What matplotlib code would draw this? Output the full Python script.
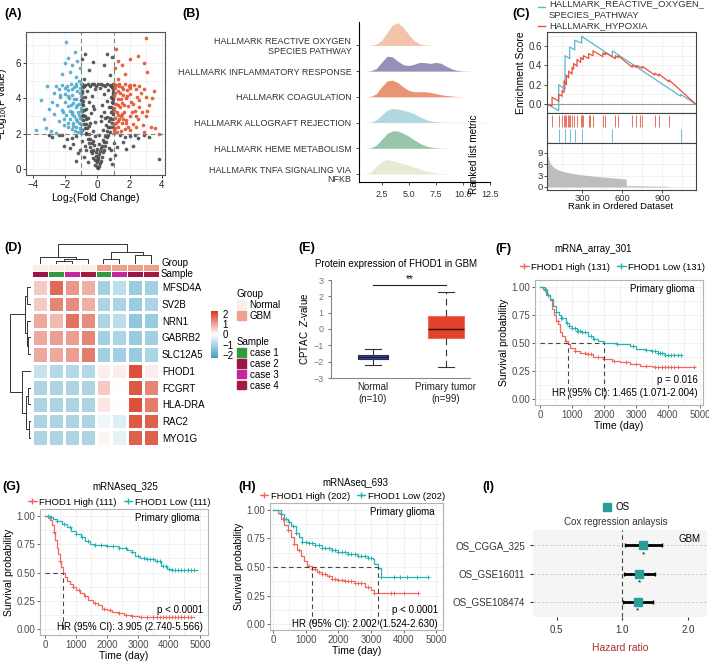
import matplotlib
matplotlib.use('agg')
import matplotlib.pyplot as plt
import numpy as np
from matplotlib.colors import LinearSegmentedColormap, ListedColormap
from matplotlib.lines import Line2D
from matplotlib.patches import Patch

plt.rcParams['font.family'] = ['Liberation Sans', 'DejaVu Sans']
plt.rcParams['font.size'] = 6.5
plt.rcParams['mathtext.fontset'] = 'custom'
plt.rcParams['mathtext.rm'] = 'Liberation Sans'
plt.rcParams['mathtext.it'] = 'Liberation Sans:italic'

# ---------------- data ----------------
# (A) volcano: (log2FC, -log10 p)
volc_gray = [(0.02,0.03),(-0.05,0.1),(0.08,0.18),(-0.12,0.25),(0.15,0.32),(-0.03,0.38),(0.2,0.45),(-0.18,0.5),
             (0.06,0.55),(-0.25,0.62),(0.28,0.7),(-0.1,0.75),(0.12,0.82),(-0.32,0.88),(0.35,0.95),(-0.6,0.4),
             (0.75,0.55),(-0.85,0.7),(0.9,0.3),(-1.3,0.45),(3.8,0.55),(-0.38,1.02),(0.4,1.08),(-0.05,1.12),
             (0.22,1.18),(-0.45,1.25),(0.48,1.3),(-0.2,1.35),(0.1,1.42),(-0.52,1.48),(0.55,1.55),(-0.3,1.6),
             (0.32,1.66),(-0.6,1.72),(0.62,1.8),(-0.12,1.85),(0.68,1.92),(-0.7,1.97),(-1.1,1.1),(1.2,1.25),
             (-1.5,1.4),(1.6,1.5),(-1.9,1.7),(2.0,1.85),(-2.4,1.9),(2.5,1.75),(-1.3,1.85),(1.4,1.95),
             (-0.95,1.6),(1.0,1.45),(-1.7,1.2),(1.8,1.15),(-0.8,1.3),(0.85,1.05),(2.9,1.95),(-2.8,1.8),
             (-0.72,2.05),(0.75,2.1),(-0.3,2.15),(0.35,2.2),(-0.78,2.3),(0.8,2.35),(-0.5,2.42),(0.55,2.48),
             (-0.85,2.55),(0.88,2.6),(-0.15,2.65),(0.2,2.7),(-0.9,2.78),(0.92,2.82),(-0.6,2.88),(0.62,2.95),
             (-0.98,2.98),(0.97,2.4),(-0.97,2.2),(0.45,2.9),(-0.92,3.05),(0.94,3.1),(-0.4,3.15),(0.42,3.2),
             (-0.97,3.3),(0.98,3.35),(-0.7,3.42),(0.72,3.48),(-0.25,3.55),(0.28,3.6),(-0.95,3.65),(0.96,3.72),
             (-0.55,3.8),(0.58,3.85),(-0.99,3.92),(0.99,3.98),(-0.8,4.05),(0.82,4.1),(-0.35,4.15),(0.38,4.22),
             (-0.96,4.28),(0.95,4.35),(-0.65,4.42),(0.68,4.48),(-0.15,4.55),(0.15,4.6),(-0.9,4.62),(0.9,4.65),
             (-0.45,4.7),(0.5,4.72),(-0.75,4.75),(0.78,4.77),(-0.2,4.78),(0.25,4.8),(-0.98,4.8),(0.98,4.78),
             (-0.6,4.8),(0.62,4.79),(-0.85,5.1),(0.75,5.3),(-0.55,5.6),(0.4,5.9),(-0.95,6.2),(0.9,6.35),
             (-0.3,6.05),(0.6,6.5),(-0.75,6.5),
             (0.0,0.5),(0.05,0.7),(-0.08,0.95),(0.18,1.0),(-0.28,1.1),(0.3,1.3),(-0.35,1.45),(0.42,1.5),
             (-0.45,1.7),(0.5,1.85),(-0.55,2.0),(0.6,2.15),(-0.62,2.3),(0.66,2.4),(-0.68,2.55),(0.72,2.7),
             (-0.74,2.8),(0.78,2.9),(-0.8,3.0),(0.83,3.2),(-0.85,3.35),(0.86,3.5),(-0.88,3.6),(0.9,3.8),
             (-0.9,3.85),(0.92,4.0),(-0.93,4.1),(0.94,4.25),(-0.94,4.4),(0.95,4.55),(-0.85,4.7),(0.85,4.72),
             (-0.35,4.78),(0.35,4.76),(-0.08,4.72),(0.05,4.8),(-1.2,0.9),(1.1,0.8),(-2.1,1.3),(2.2,1.3),
             (-1.6,1.75),(1.7,1.8),(-2.2,1.95),(2.3,1.95),(-0.7,1.1),(0.7,1.2),(-3.0,1.9),(3.2,1.8),
             (0.1,1.9),(-0.45,2.6),(0.25,3.0),(-0.2,3.4)]
volc_blue = [(-1.05,2.05),(-1.2,2.1),(-1.4,2.15),(-1.1,2.3),(-1.6,2.25),(-1.3,2.4),(-1.85,2.35),(-1.05,2.55),
             (-1.5,2.6),(-2.1,2.5),(-1.25,2.7),(-1.7,2.8),(-2.4,2.7),(-1.1,2.9),(-1.45,3.0),(-1.95,3.05),
             (-2.7,3.1),(-1.2,3.2),(-1.6,3.25),(-2.2,3.35),(-1.05,3.45),(-1.35,3.5),(-1.8,3.55),(-2.5,3.6),
             (-3.0,3.4),(-1.15,3.7),(-1.5,3.75),(-2.0,3.8),(-1.3,3.95),(-1.75,4.0),(-2.3,4.05),(-1.05,4.15),
             (-1.55,4.2),(-2.0,4.25),(-2.7,4.3),(-1.25,4.4),(-1.8,4.45),(-2.4,4.5),(-1.1,4.6),(-1.45,4.65),
             (-1.9,4.7),(-2.2,4.75),(-1.3,4.78),(-1.65,4.8),(-2.6,4.72),(-3.1,4.7),(-3.5,3.9),(-3.8,2.2),
             (-3.2,2.3),(-2.9,2.15),(-2.55,2.05),(-1.35,5.2),(-1.7,5.5),(-1.1,5.7),(-1.55,5.9),(-2.0,6.0),
             (-1.25,6.1),(-1.8,6.3),(-2.2,5.4),(-1.4,6.6),(-1.95,7.2),(-1.15,5.0),(-2.35,4.2),(-1.7,3.3),
             (-2.05,2.85),(-1.15,3.05),(-1.5,2.45),(-2.8,3.8),(-3.3,2.8),
             (-1.02,2.2),(-1.15,2.6),(-1.35,2.85),(-1.55,3.1),(-1.05,3.3),(-1.25,3.6),(-1.65,3.6),
             (-1.45,3.95),(-1.1,4.3),(-1.6,4.5),(-2.0,4.6),(-1.35,4.7),(-1.02,4.78),(-1.85,4.15),(-2.15,3.2),
             (-1.8,2.6)]
volc_red = [(1.05,2.05),(1.2,2.1),(1.45,2.15),(1.1,2.3),(1.7,2.25),(2.0,2.2),(1.3,2.4),(1.9,2.4),(2.4,2.35),
            (1.05,2.55),(1.55,2.6),(2.2,2.55),(2.8,2.5),(1.25,2.7),(1.8,2.75),(2.5,2.8),(1.1,2.9),(1.45,3.0),
            (2.0,3.0),(3.0,3.0),(1.2,3.2),(1.65,3.25),(2.3,3.3),(1.05,3.45),(1.4,3.5),(1.9,3.55),(2.6,3.5),
            (3.2,3.6),(1.15,3.7),(1.55,3.75),(2.1,3.8),(1.3,3.95),(1.8,4.0),(2.45,4.05),(3.0,4.1),(1.05,4.15),
            (1.6,4.2),(2.05,4.25),(2.7,4.3),(1.25,4.4),(1.85,4.45),(2.4,4.5),(1.1,4.6),(1.5,4.65),(1.95,4.7),
            (2.25,4.75),(1.35,4.78),(1.7,4.8),(2.6,4.72),(3.4,4.0),(3.5,4.4),(3.3,2.4),(3.6,2.3),(2.9,2.1),
            (1.3,5.1),(1.7,5.4),(1.1,5.7),(1.5,5.9),(2.0,6.2),(1.3,6.1),(2.5,6.4),(2.9,6.0),(3.0,7.4),
            (1.15,6.8),(3.1,5.5),(1.25,3.05),(1.6,2.85),(2.2,3.65),(1.4,4.3),(2.0,4.75),(1.15,4.75),
            (2.75,3.2),(3.8,2.0),
            (1.02,2.2),(1.15,2.6),(1.35,2.85),(1.55,3.1),(1.05,3.3),(1.25,3.6),(1.65,3.6),(1.45,3.95),
            (1.1,4.3),(1.6,4.5),(2.0,4.6),(1.35,4.7),(1.02,4.78),(1.85,4.15),(2.15,3.2),(1.8,2.6),(2.4,3.0),
            (2.6,3.9),(2.9,4.5),(3.1,3.3)]

# (B) ridge densities
ridge_names = ['HALLMARK REACTIVE OXYGEN\nSPECIES PATHWAY', 'HALLMARK INFLAMMATORY RESPONSE',
               'HALLMARK COAGULATION', 'HALLMARK ALLOGRAFT REJECTION', 'HALLMARK HEME METABOLISM',
               'HALLMARK TNFA SIGNALING VIA\nNFKB']
ridge_colors = ['#F3BEA3', '#8C87B2', '#E78B69', '#ABD5DE', '#8FC1A3', '#E3EBCF']
ridge_x = [0.5, 1.0, 1.5, 2.0, 2.5, 3.0, 3.5, 4.0, 4.5, 5.0, 5.5, 6.0, 6.5, 7.0, 7.5, 8.0, 8.5, 9.0, 9.5,
           10.0, 10.5, 11.0, 11.5, 12.0, 12.5]
ridge_ros = [0, 0, 0.01, 0.05, 0.2, 0.5, 0.8, 0.88, 0.7, 0.42, 0.18, 0.06, 0.02, 0.01, 0, 0, 0, 0, 0, 0, 0, 0, 0, 0, 0]
ridge_inf = [0, 0, 0.02, 0.1, 0.35, 0.58, 0.55, 0.38, 0.25, 0.22, 0.27, 0.34, 0.33, 0.3, 0.34, 0.3, 0.18, 0.08,
             0.03, 0.01, 0.005, 0, 0, 0, 0]
ridge_coa = [0, 0, 0.02, 0.12, 0.4, 0.62, 0.65, 0.55, 0.38, 0.25, 0.2, 0.2, 0.2, 0.17, 0.13, 0.08, 0.05, 0.03,
             0.01, 0.005, 0, 0, 0, 0, 0]
ridge_all = [0, 0, 0.02, 0.1, 0.3, 0.48, 0.55, 0.53, 0.48, 0.42, 0.35, 0.23, 0.13, 0.06, 0.03, 0.02, 0.01,
             0.01, 0.01, 0.01, 0.01, 0.01, 0.01, 0.005, 0]
ridge_hem = [0, 0, 0.02, 0.12, 0.35, 0.58, 0.68, 0.67, 0.58, 0.47, 0.33, 0.2, 0.1, 0.05, 0.02, 0.01, 0.005,
             0, 0, 0, 0, 0, 0, 0, 0]
ridge_tnf = [0, 0.01, 0.08, 0.3, 0.5, 0.56, 0.52, 0.46, 0.4, 0.34, 0.27, 0.2, 0.13, 0.08, 0.04, 0.02, 0.01,
             0, 0, 0, 0, 0, 0, 0, 0]

# (C) GSEA
blue_es_rank = [37, 125, 125, 172, 172, 207, 207, 245, 245, 297, 297, 527, 527, 1040, 1040, 1152]
blue_es_val = [0, -0.07, 0.2, 0.15, 0.5, 0.47, 0.59, 0.56, 0.66, 0.63, 0.7, 0.49, 0.55, 0.08, 0.1, 0]
red_es_rank = [37, 75, 75, 125, 125, 150, 150, 165, 165, 182, 182, 200, 200, 225, 225, 237, 237, 262, 262,
               290, 290, 310, 310, 350, 350, 382, 382, 457, 457, 475, 475, 550, 550, 570, 570, 677, 677,
               707, 707, 752, 752, 845, 845, 877, 877, 952, 952, 1152]
red_es_val = [0, -0.02, 0.07, 0.03, 0.1, 0.08, 0.14, 0.12, 0.24, 0.2, 0.3, 0.27, 0.34, 0.31, 0.38, 0.36, 0.42,
              0.39, 0.46, 0.43, 0.48, 0.46, 0.5, 0.47, 0.52, 0.5, 0.55, 0.49, 0.53, 0.51, 0.53, 0.47, 0.5,
              0.48, 0.5, 0.38, 0.4, 0.38, 0.4, 0.37, 0.39, 0.3, 0.32, 0.29, 0.31, 0.23, 0.25, 0]
blue_hits = [125, 172, 175, 207, 245, 297, 527, 1040]
red_hits = [75, 125, 150, 165, 172, 182, 192, 200, 210, 225, 237, 262, 290, 300, 310, 350, 362, 382, 457, 475,
            550, 570, 677, 707, 732, 752, 845, 877, 952]
metric_rank = [37, 42, 50, 60, 75, 100, 130, 170, 220, 300, 400, 500, 630, 632, 800, 950, 952, 1152]
metric_val = [10.5, 8.5, 7.2, 6.3, 5.6, 4.9, 4.4, 4.0, 3.6, 3.2, 2.8, 2.5, 2.1, 0.35, 0.25, 0.15, 0.0, 0.0]

# (D) heatmap
genes = ['MFSD4A', 'SV2B', 'NRN1', 'GABRB2', 'SLC12A5', 'FHOD1', 'FCGRT', 'HLA-DRA', 'RAC2', 'MYO1G']
heat = [[0.6, 1.7, 1.2, 0.9, -1.1, -0.8, -1.2, -1.1],
        [0.6, 1.4, 1.3, 0.9, -1.0, -1.0, -1.2, -1.0],
        [1.0, 0.8, 1.6, 1.3, -1.0, -0.8, -1.3, -1.2],
        [1.0, 1.1, 1.1, 1.4, -1.1, -1.0, -1.2, -1.1],
        [1.0, 1.0, 1.1, 1.5, -1.1, -1.1, -1.2, -1.0],
        [-0.7, -0.9, -0.9, -0.9, 0.2, 0.2, 2.0, 0.2],
        [-1.0, -1.0, -1.0, -1.0, 0.6, 0.0, 1.9, 1.4],
        [-1.0, -1.0, -1.0, -1.0, 0.3, 0.0, 2.0, 1.5],
        [-1.0, -1.0, -1.0, -1.0, -0.2, -0.4, 1.9, 1.8],
        [-1.0, -1.0, -1.0, -1.0, 0.1, -0.3, 1.8, 1.8]]
group_names = ['Normal', 'GBM']
group_cols = ['#FBEEE8', '#EFA18D']
group_codes = [0, 0, 0, 0, 1, 1, 1, 1]
sample_names = ['case 1', 'case 2', 'case 3', 'case 4']
sample_cols = ['#2E9B3F', '#9A1549', '#C4279C', '#A31A3C']
sample_codes = [1, 0, 2, 3, 0, 2, 1, 3]
col_merges = [(1, 2, 1.0), (8, 3, 1.4), (0, 9, 2.0), (6, 7, 2.6), (4, 5, 1.6), (12, 11, 3.4), (10, 13, 6.0)]
row_merges = [(0, 1, 0.4), (3, 4, 0.3), (2, 11, 0.45), (10, 12, 0.6), (6, 7, 0.3), (8, 9, 0.2),
              (14, 15, 0.5), (5, 16, 0.9), (13, 17, 2.2)]

# (E) CPTAC box stats
box_labels = ['Normal\n(n=10)', 'Primary tumor\n(n=99)']
box_med = [-1.72, 0.0]
box_q1 = [-1.85, -0.55]
box_q3 = [-1.6, 0.8]
box_lo = [-2.2, -2.3]
box_hi = [-1.25, 2.25]

# (F) mRNA_array_301
f_hi_t = [0, 80, 200, 300, 370, 450, 500, 560, 625, 700, 780, 860, 940, 1100, 1250, 1450, 1670, 1980, 2250,
          2500, 2810, 3125, 3540, 4800]
f_hi_s = [1, 0.98, 0.93, 0.88, 0.8, 0.75, 0.7, 0.67, 0.6, 0.56, 0.52, 0.49, 0.46, 0.43, 0.41, 0.4, 0.38,
          0.36, 0.34, 0.33, 0.31, 0.295, 0.285, 0.285]
f_lo_t = [0, 150, 220, 300, 400, 500, 600, 650, 800, 900, 1000, 1150, 1300, 1500, 1650, 1800, 2000, 2400,
          2800, 3000, 3300, 3500, 3700, 3900, 4400]
f_lo_s = [1, 0.97, 0.93, 0.89, 0.83, 0.78, 0.75, 0.72, 0.68, 0.65, 0.63, 0.61, 0.6, 0.56, 0.54, 0.52, 0.5,
          0.49, 0.47, 0.45, 0.44, 0.43, 0.41, 0.39, 0.39]
f_hi_c = [150, 250, 550, 800, 1100, 1400, 1500, 1600, 1800, 2000, 2300, 2700, 3000, 3300, 3600, 3700, 3800,
          3900, 4000, 4100, 4200, 4300, 4800]
f_lo_c = [150, 200, 250, 500, 650, 700, 850, 900, 1000, 1100, 1150, 1200, 1250, 1300, 1400, 1600, 1700, 2400,
          2900, 3300, 3500, 3600, 3700, 3750, 3800, 3900, 4000, 4100, 4200, 4300, 4400]

# (G) mRNAseq_325
g_hi_t = [0, 100, 160, 220, 280, 330, 380, 420, 470, 520, 580, 650, 720, 800, 900, 1000, 1130, 1250, 1400,
          1550, 1700, 1850, 2000, 2150, 2350, 2550, 2800, 3050, 4800]
g_hi_s = [1, 0.98, 0.96, 0.92, 0.86, 0.79, 0.72, 0.66, 0.6, 0.55, 0.5, 0.46, 0.43, 0.4, 0.37, 0.35, 0.32,
          0.29, 0.26, 0.23, 0.21, 0.18, 0.17, 0.15, 0.14, 0.13, 0.12, 0.11, 0.11]
g_lo_t = [0, 150, 270, 400, 550, 700, 850, 1000, 1150, 1300, 1450, 1600, 2000, 2400, 2650, 2800, 2920, 3080,
          3300, 3550, 3750, 3950, 4100, 4900]
g_lo_s = [1, 0.99, 0.97, 0.95, 0.93, 0.9, 0.87, 0.84, 0.81, 0.78, 0.75, 0.74, 0.73, 0.72, 0.7, 0.68, 0.65,
          0.63, 0.62, 0.6, 0.56, 0.53, 0.52, 0.52]
g_hi_c = [300, 500, 900, 1100, 1300, 1600, 1900, 2100, 2400, 2600, 2800, 3100, 3300, 3500, 3600, 3700, 3800,
          3900, 4000, 4100, 4200, 4300, 4400, 4500, 4600, 4700]
g_lo_c = [100, 200, 400, 600, 800, 1000, 1200, 1400, 1600, 1800, 2000, 2200, 2400, 2600, 2800, 3000, 3200,
          3300, 3400, 3500, 3600, 3700, 3800, 3900, 4000, 4100, 4200, 4300, 4400, 4500, 4600, 4700, 4800]

# (H) mRNAseq_693
h_hi_t = [0, 150, 250, 350, 450, 550, 650, 750, 850, 950, 1050, 1200, 1350, 1500, 1650, 1800, 2000, 2200,
          2500, 2800, 3000, 3100, 4450]
h_hi_s = [1, 0.97, 0.92, 0.87, 0.82, 0.76, 0.7, 0.65, 0.6, 0.55, 0.51, 0.48, 0.46, 0.44, 0.42, 0.4, 0.39,
          0.38, 0.36, 0.33, 0.3, 0.27, 0.27]
h_lo_t = [0, 250, 350, 450, 550, 700, 800, 900, 1100, 1300, 1500, 1800, 2000, 2300, 2600, 2900, 3050, 3100,
          3200, 3300, 4750]
h_lo_s = [1, 0.96, 0.92, 0.89, 0.86, 0.8, 0.76, 0.72, 0.71, 0.69, 0.67, 0.65, 0.63, 0.61, 0.6, 0.58, 0.57,
          0.53, 0.49, 0.41, 0.41]
h_hi_c = [300, 450, 650, 800, 1100, 1200, 1300, 1400, 1500, 1600, 1700, 1800, 1900, 2000, 2100, 2200, 2300,
          2400, 2500, 2600, 2700, 2900, 3100, 3600, 3700, 4000, 4450]
h_lo_c = [250, 400, 500, 600, 700, 900, 1000, 1100, 1200, 1300, 1400, 1500, 1600, 1700, 1800, 1900, 2000,
          2100, 2200, 2300, 2400, 2500, 2600, 2700, 2800, 2900, 3000, 3300, 3700, 3900, 4100, 4400, 4750]

# (I) Cox regression
cox_names = ['OS_CGGA_325', 'OS_GSE16011', 'OS_GSE108474']
cox_hr = [1.25, 1.2, 1.18]
cox_lo = [1.03, 1.02, 1.01]
cox_hi = [1.52, 1.41, 1.38]

# ---------------- figure ----------------
W, H = 709, 661
fig = plt.figure(figsize=(W / 100, H / 100), dpi=100)

RED = '#F0685C'
TEAL = '#26B3B3'


def px(x0, y0, x1, y1):
    return [x0 / W, 1 - y1 / H, (x1 - x0) / W, (y1 - y0) / H]


def ftext(x, y, s, **kw):
    return fig.text(x / W, 1 - y / H, s, **kw)


def panel_label(x, y, s):
    ftext(x, y, s, fontsize=9, fontweight='bold', va='center', ha='left')


def gg_frame(ax, col='#B3B3B3'):
    for sp in ax.spines.values():
        sp.set_color(col)
        sp.set_linewidth(0.8)
    ax.tick_params(colors='#4D4D4D', labelsize=6.5, length=2, width=0.6)
    ax.grid(which='both', color='#EBEBEB', lw=0.5)
    ax.set_axisbelow(True)


# ---- (A) volcano
panel_label(4, 14, '(A)')
axA = fig.add_axes(px(26, 32, 165, 175))
for pts, col in [(volc_gray, '#4A4A4A'), (volc_blue, '#4FAACB'), (volc_red, '#E2532F')]:
    p = np.array(pts)
    axA.scatter(p[:, 0], p[:, 1], s=7, c=col, lw=0, alpha=0.9)
axA.axvline(-1, color='#808080', lw=0.8, ls=(0, (4, 3)))
axA.axvline(1, color='#808080', lw=0.8, ls=(0, (4, 3)))
axA.axhline(2, color='#808080', lw=0.8, ls=(0, (4, 3)))
axA.set_xlim(-4.43, 4.19)
axA.set_ylim(-0.34, 7.75)
axA.set_xticks([-4, -2, 0, 2, 4])
axA.set_xticks([-3, -1, 1, 3], minor=True)
axA.set_yticks([0, 2, 4, 6])
axA.set_yticks([1, 3, 5, 7], minor=True)
gg_frame(axA, '#555555')
axA.tick_params(which='minor', length=0)
axA.tick_params(colors='#222222', labelsize=7, pad=1.5)
axA.set_xlabel('Log$_2$(Fold Change)', fontsize=7.5, labelpad=1)
axA.set_ylabel('\u2212Log$_{10}$(P value)', fontsize=7.2)
axA.yaxis.set_label_coords(-0.12, 0.5)

# ---- (B) ridges
panel_label(182, 14, '(B)')
axB = fig.add_axes(px(359, 22, 490, 182))
ridges = [ridge_ros, ridge_inf, ridge_coa, ridge_all, ridge_hem, ridge_tnf]
for i, (dens, col) in enumerate(zip(ridges, ridge_colors)):
    base = 6 - i
    axB.fill_between(ridge_x, base, base + np.array(dens), color=col, lw=0, alpha=0.92, zorder=i + 1)
axB.set_xlim(0.4, 12.5)
axB.set_ylim(0.69, 6.91)
axB.set_yticks([6, 5, 4, 3, 2, 1])
axB.set_yticklabels(ridge_names, fontsize=6.5, color='#333333', linespacing=1.05)
axB.set_xticks([2.5, 5.0, 7.5, 10.0, 12.5])
axB.tick_params(labelsize=6.5, colors='#333333', length=2, width=0.6)
for s in ['top', 'right']:
    axB.spines[s].set_visible(False)
for s in ['left', 'bottom']:
    axB.spines[s].set_linewidth(0.8)

# ---- (C) GSEA
panel_label(512, 14, '(C)')
BLUE_C = '#5BB6CF'
RED_C = '#E8513A'
axC1 = fig.add_axes(px(547, 32, 696, 113))
axC2 = fig.add_axes(px(547, 113, 696, 143))
axC3 = fig.add_axes(px(547, 143, 696, 190))
for ax in (axC1, axC2, axC3):
    ax.set_xlim(37, 1155)
    ax.set_xticks([300, 600, 900])
    ax.set_xticks([150, 450, 750, 1050], minor=True)
    gg_frame(ax, '#444444')
    ax.tick_params(which='minor', length=0)
axC1.plot(blue_es_rank, blue_es_val, color=BLUE_C, lw=0.9)
axC1.plot(red_es_rank, red_es_val, color=RED_C, lw=0.9)
axC1.axhline(0, color='#999999', lw=0.8, zorder=1)
axC1.set_ylim(-0.093, 0.745)
axC1.set_yticks([0.0, 0.2, 0.4, 0.6])
axC1.set_yticks([0.1, 0.3, 0.5, 0.7], minor=True)
axC1.tick_params(labelbottom=False, bottom=False)
axC1.tick_params(labelsize=7, colors='#333333', pad=1.5)
axC1.set_ylabel('Enrichment Score', fontsize=7.5, labelpad=2)
axC2.vlines(red_hits, 0.52, 0.95, color='#E8735F', lw=0.7)
axC2.vlines(blue_hits, 0.05, 0.48, color='#6CBED6', lw=0.7)
axC2.set_ylim(0, 1)
axC2.set_yticks([])
axC2.grid(False)
axC2.tick_params(labelbottom=False, bottom=False)
axC3.fill_between(metric_rank, 0, metric_val, color='#BDBDBD', lw=0)
axC3.set_ylim(-0.8, 11.6)
axC3.set_yticks([0, 3, 6, 9])
axC3.tick_params(labelsize=6.8, colors='#333333', pad=1)
ftext(474, 154, 'Ranked list metric', rotation=90, ha='center', va='center', fontsize=7.2)
ftext(621, 207, 'Rank in Ordered Dataset', ha='center', va='center', fontsize=6.8)
fig.add_artist(Line2D([538 / W, 545 / W], [1 - 7 / H, 1 - 7 / H], color=BLUE_C, lw=1))
fig.add_artist(Line2D([538 / W, 545 / W], [1 - 26 / H, 1 - 26 / H], color=RED_C, lw=1))
ftext(549, 4, 'HALLMARK_REACTIVE_OXYGEN_', va='center', fontsize=6.8, color='#333333')
ftext(549, 15, 'SPECIES_PATHWAY', va='center', fontsize=6.8, color='#333333')
ftext(549, 26, 'HALLMARK_HYPOXIA', va='center', fontsize=6.8, color='#333333')


# ---- (D) heatmap
def draw_dendro(ax, merges, n, orient):
    pos = {i: (i + 0.5, 0.0) for i in range(n)}
    for k, (a, b, h) in enumerate(merges):
        xa, ha = pos[a]
        xb, hb = pos[b]
        xs = [xa, xa, xb, xb]
        ys = [ha, h, h, hb]
        if orient == 'top':
            ax.plot(xs, ys, color='#333333', lw=0.7)
        else:
            ax.plot(ys, xs, color='#333333', lw=0.7)
        pos[n + k] = ((xa + xb) / 2, h)
    ax.axis('off')


panel_label(4, 248, '(D)')
cmap_h = LinearSegmentedColormap.from_list('hm', ['#3E9EC4', '#FFFFFF', '#D7361C'])
axD = fig.add_axes(px(32, 279, 159, 446))
mesh = axD.pcolormesh(np.array(heat), cmap=cmap_h, vmin=-2.3, vmax=2.3, edgecolors='white', lw=0.8)
axD.set_ylim(10, 0)
axD.set_xticks([])
axD.yaxis.tick_right()
axD.set_yticks(np.arange(10) + 0.5)
axD.set_yticklabels(genes, fontsize=7)
axD.tick_params(length=0, pad=2)
for sp in axD.spines.values():
    sp.set_visible(False)

axDa = fig.add_axes(px(32, 264, 159, 277))
ann = np.array([group_codes, [c + 2 for c in sample_codes]])
axDa.pcolormesh(ann, cmap=ListedColormap(group_cols + sample_cols), vmin=-0.5, vmax=5.5,
                edgecolors='white', lw=0.6)
axDa.set_ylim(2, 0)
axDa.axis('off')
ftext(161, 263, 'Group', ha='left', va='center', fontsize=7)
ftext(161, 273.5, 'Sample', ha='left', va='center', fontsize=7)

axDt = fig.add_axes(px(32, 243, 159, 264))
draw_dendro(axDt, col_merges, 8, 'top')
axDt.set_xlim(0, 8)
axDt.set_ylim(0, 6.2)
axDl = fig.add_axes(px(9, 279, 31, 446))
draw_dendro(axDl, row_merges, 10, 'left')
axDl.set_ylim(10, 0)
axDl.set_xlim(2.3, 0)

cax = fig.add_axes(px(211, 311, 218, 358))
cb = fig.colorbar(mesh, cax=cax, ticks=[-2, -1, 0, 1, 2])
cb.outline.set_visible(False)
cb.ax.tick_params(labelsize=7, length=2, color='white', pad=1)
cb.ax.set_yticklabels(['\u22122', '\u22121', '0', '1', '2'])

leg1 = fig.legend([Patch(color=c) for c in group_cols], group_names, title='Group', loc='upper left',
                  bbox_to_anchor=(233 / W, 1 - 285 / H), frameon=False, fontsize=7, title_fontsize=7,
                  handlelength=0.9, handleheight=0.9, handletextpad=0.4, labelspacing=0.1,
                  alignment='left', borderaxespad=0)
leg2 = fig.legend([Patch(color=c) for c in sample_cols], sample_names, title='Sample', loc='upper left',
                  bbox_to_anchor=(233 / W, 1 - 333 / H), frameon=False, fontsize=7, title_fontsize=7,
                  handlelength=0.9, handleheight=0.9, handletextpad=0.4, labelspacing=0.1,
                  alignment='left', borderaxespad=0)

# ---- (E) boxplot
panel_label(298, 248, '(E)')
ftext(396, 264, 'Protein expression of FHOD1 in GBM', ha='center', va='center', fontsize=7)
axE = fig.add_axes(px(331, 280, 470, 378))
box_face = ['#3852A3', '#E2412A']
box_edge = ['#1E2E70', '#EE6F5E']
box_dash = ['-', (0, (6, 4))]
for i in range(2):
    st = [dict(med=box_med[i], q1=box_q1[i], q3=box_q3[i], whislo=box_lo[i], whishi=box_hi[i], fliers=[])]
    axE.bxp(st, positions=[i + 1], widths=[0.42 + 0.08 * i], patch_artist=True, showfliers=False,
            boxprops=dict(facecolor=box_face[i], edgecolor=box_edge[i], lw=0.8),
            medianprops=dict(color='#2A1410', lw=1.0),
            whiskerprops=dict(color='#333333', lw=0.8, ls=box_dash[i]),
            capprops=dict(color='#333333', lw=0.8), capwidths=[0.22])
axE.plot([1, 2], [2.7, 2.7], color='#222222', lw=0.8)
axE.text(1.5, 2.78, '**', ha='center', va='bottom', fontsize=7)
axE.set_xlim(0.425, 2.33)
axE.set_ylim(-3, 3)
axE.set_yticks([-3, -2, -1, 0, 1, 2, 3])
axE.set_xticks([1, 2])
axE.set_xticklabels(box_labels, fontsize=7, color='#222222')
axE.tick_params(axis='y', labelsize=6.5, colors='#777777', length=2)
axE.tick_params(axis='x', length=0, pad=3)
for s in ['top', 'right']:
    axE.spines[s].set_visible(False)
for s in ['left', 'bottom']:
    axE.spines[s].set_color('#888888')
axE.set_ylabel('CPTAC  $Z$-value', fontsize=7, labelpad=2)


# ---- KM panels
def surv_at(ts, t, s):
    idx = np.searchsorted(np.array(t), np.array(ts), side='right') - 1
    return np.array(s)[idx]


def median_time(t, s):
    for ti, si in zip(t, s):
        if si <= 0.5:
            return ti
    return None


def km_panel(rect, xlim, hi_t, hi_s, lo_t, lo_s, hi_c, lo_c, n, p_txt, hr_txt, p_y, hr_y, leg_y):
    ax = fig.add_axes(px(*rect))
    ax.step(hi_t, hi_s, where='post', color=RED, lw=0.9)
    ax.step(lo_t, lo_s, where='post', color=TEAL, lw=0.9)
    ax.plot(hi_c, surv_at(hi_c, hi_t, hi_s), '+', color=RED, ms=3.5, mew=0.7)
    ax.plot(lo_c, surv_at(lo_c, lo_t, lo_s), '+', color=TEAL, ms=3.5, mew=0.7)
    meds = [m for m in (median_time(hi_t, hi_s), median_time(lo_t, lo_s)) if m is not None]
    ax.plot([0, max(meds)], [0.5, 0.5], color='#444444', lw=0.8, ls=(0, (4, 3)))
    for m in meds:
        ax.plot([m, m], [0, 0.5], color='#444444', lw=0.8, ls=(0, (4, 3)))
    ax.set_xlim(*xlim)
    ax.set_ylim(-0.05, 1.06)
    ax.set_xticks([0, 1000, 2000, 3000, 4000, 5000])
    ax.set_xticks([500, 1500, 2500, 3500, 4500], minor=True)
    ax.set_yticks([0, 0.25, 0.5, 0.75, 1.0])
    ax.set_yticks([0.125, 0.375, 0.625, 0.875], minor=True)
    ax.set_yticklabels(['0.00', '0.25', '0.50', '0.75', '1.00'])
    gg_frame(ax)
    ax.tick_params(which='minor', length=0)
    ax.tick_params(labelsize=7, pad=1.5)
    ax.set_xlabel('Time (day)', fontsize=7.5, labelpad=1)
    ax.set_ylabel('Survival probability', fontsize=7.5, labelpad=2)
    ax.text(0.95, 0.93, 'Primary glioma', transform=ax.transAxes, ha='right', va='center', fontsize=7)
    ax.text(0.97, p_y, p_txt, transform=ax.transAxes, ha='right', va='center', fontsize=7)
    ax.text(0.97, hr_y, hr_txt, transform=ax.transAxes, ha='right', va='center', fontsize=7)
    hands = [Line2D([], [], color=RED, marker='+', ms=4, lw=0.9),
             Line2D([], [], color=TEAL, marker='+', ms=4, lw=0.9)]
    ax.legend(hands, ['FHOD1 High (%d)' % n[0], 'FHOD1 Low (%d)' % n[1]], loc='lower right',
              bbox_to_anchor=(1.02, leg_y), ncol=2, frameon=False, fontsize=6.8, handlelength=0.9,
              handletextpad=0.3, columnspacing=0.7, borderaxespad=0, borderpad=0.1)
    return ax


panel_label(495, 249, '(F)')
ftext(593, 249, 'mRNA_array_301', ha='center', va='center', fontsize=7)
km_panel((535, 280, 703, 405), (-156, 5094), f_hi_t, f_hi_s, f_lo_t, f_lo_s, f_hi_c, f_lo_c, (131, 131),
         'p = 0.016', 'HR (95% CI): 1.465 (1.071-2.004)', 0.2, 0.096, 1.06)

panel_label(2, 487, '(G)')
ftext(125, 487, 'mRNAseq_325', ha='center', va='center', fontsize=7)
km_panel((40, 509, 208, 635), (-160, 5260), g_hi_t, g_hi_s, g_lo_t, g_lo_s, g_hi_c, g_lo_c, (111, 111),
         'p < 0.0001', 'HR (95% CI): 3.905 (2.740-5.566)', 0.2, 0.065, 1.01)

panel_label(238, 487, '(H)')
ftext(355, 483, 'mRNAseq_693', ha='center', va='center', fontsize=7)
km_panel((270, 503, 443, 630), (-90, 5200), h_hi_t, h_hi_s, h_lo_t, h_lo_s, h_hi_c, h_lo_c, (202, 202),
         'p < 0.0001', 'HR (95% CI): 2.002 (1.524-2.630)', 0.16, 0.05, 1.01)

# ---- (I) forest plot
panel_label(482, 487, '(I)')
axI = fig.add_axes(px(533, 530, 707, 617))
axI.set_facecolor('#F5F5F5')
ypos = [3, 2, 1]
for y in ypos:
    axI.axhline(y, color='#C8C8C8', lw=0.6, ls=(0, (3, 2)), zorder=0)
axI.axvline(1.0, color='#444444', lw=0.8, ls=(0, (4, 3)), zorder=1)
axI.errorbar(cox_hr, ypos, xerr=[np.array(cox_hr) - np.array(cox_lo), np.array(cox_hi) - np.array(cox_hr)],
             fmt='none', ecolor='black', elinewidth=2, capsize=1.5, capthick=1, zorder=2)
axI.plot(cox_hr, ypos, 's', color='#2A9D99', ms=6, zorder=3)
for h, y in zip(cox_hr, ypos):
    axI.text(h, y - 0.22, '*', ha='center', va='top', fontsize=6)
axI.set_xscale('log', base=2)
axI.set_xlim(0.39, 2.45)
axI.set_ylim(0.45, 3.55)
axI.set_xticks([0.5, 1.0, 2.0])
axI.set_xticklabels(['0.5', '1.0', '2.0'])
axI.minorticks_off()
axI.set_yticks(ypos)
axI.set_yticklabels(cox_names, fontsize=7)
axI.tick_params(labelsize=7, length=2, colors='#333333')
for sp in axI.spines.values():
    sp.set_visible(False)
axI.text(0.96, 0.9, 'GBM', transform=axI.transAxes, ha='right', va='center', fontsize=7)
axI.set_xlabel('Hazard ratio', color='#A8322D', fontsize=7.5, labelpad=6)
axI.legend([Line2D([], [], marker='s', ls='', color='#2A9D99', ms=6)], ['OS'], loc='center',
           bbox_to_anchor=(616 / W, 1 - 507 / H), bbox_transform=fig.transFigure, frameon=False,
           fontsize=7, handletextpad=0.3, handlelength=1.0)
ftext(616, 522, 'Cox regression anlaysis', ha='center', va='center', fontsize=7, color='#333333')

fig.savefig('out.png', dpi=100)
